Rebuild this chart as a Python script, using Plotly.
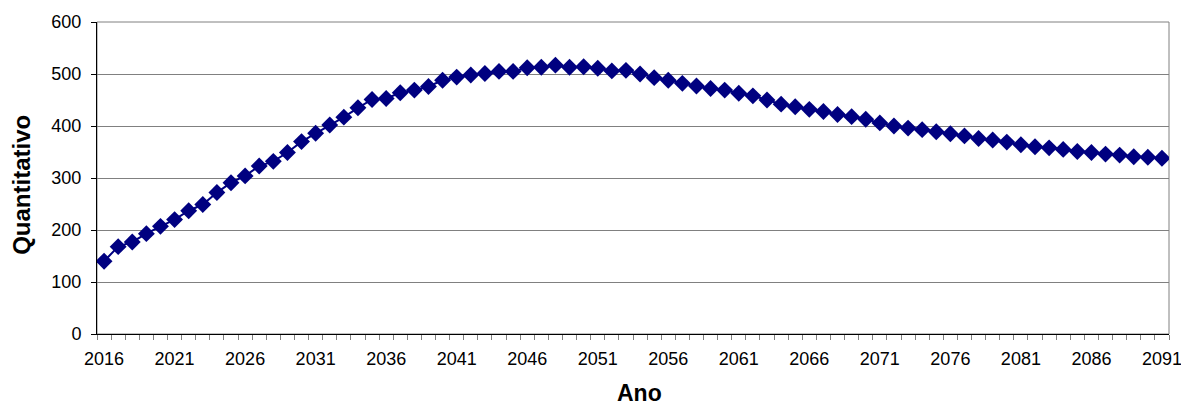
import plotly.graph_objects as go

years = list(range(2016, 2092))
quantitativo = [
    140, 168, 177, 193, 207, 220, 237, 249, 272, 291,
    304, 323, 332, 349, 370, 386, 402, 417, 435, 451,
    453, 464, 469, 476, 488, 494, 498, 501, 505, 505,
    512, 513, 517, 513, 514, 511, 506, 507, 500, 493,
    488, 482, 477, 472, 469, 463, 458, 450, 442, 437,
    432, 428, 422, 418, 413, 406, 400, 396, 393, 389,
    385, 381, 376, 373, 369, 364, 360, 358, 355, 351,
    349, 346, 344, 341, 340, 338,
]
tick_years = list(range(2016, 2092, 5))
y_ticks = [0, 100, 200, 300, 400, 500, 600]
x_title = "Ano"
y_title = "Quantitativo"

fig = go.Figure()
fig.add_trace(go.Scatter(
    x=years, y=quantitativo, mode="lines+markers",
    line=dict(color="#000080", width=2),
    marker=dict(symbol="diamond", size=13, color="#000080"),
    showlegend=False,
))

fig.update_layout(
    width=1181, height=405,
    margin=dict(l=97, r=12, t=22, b=71),
    paper_bgcolor="white", plot_bgcolor="white",
    font=dict(family="Liberation Sans, Arial, sans-serif", size=18, color="black"),
    shapes=[dict(type="rect", xref="paper", yref="paper", x0=0, y0=0, x1=1, y1=1,
                 line=dict(color="#808080", width=1), layer="below")],
    annotations=[
        dict(text="<b>" + x_title + "</b>", xref="paper", yref="paper", x=0.5065, y=-0.19,
             xanchor="center", yanchor="middle", showarrow=False, font=dict(size=23)),
        dict(text="<b>" + y_title + "</b>", xref="paper", yref="paper", x=-0.07, y=0.478,
             xanchor="center", yanchor="middle", textangle=-90, showarrow=False, font=dict(size=24)),
    ],
)
fig.update_xaxes(
    range=[2015.5, 2091.5], tickvals=tick_years, ticktext=[str(v) for v in tick_years],
    ticks="outside", ticklen=5, tickcolor="rgba(0,0,0,0)", ticklabelstandoff=3,
    ticklabeloverflow="allow",
    showline=True, linecolor="black", linewidth=1, showgrid=False, zeroline=False,
    automargin=False,
    minor=dict(ticks="outside", ticklen=5, tick0=2015.5, dtick=1, tickcolor="#808080", showgrid=False),
)
fig.update_yaxes(
    range=[0, 600], tickvals=y_ticks,
    ticks="outside", ticklen=5, tickcolor="black", ticklabelstandoff=6,
    showline=True, linecolor="black", linewidth=1, automargin=False,
    showgrid=True, gridcolor="#808080", gridwidth=1, zeroline=False,
)
fig.write_html(
    "out.html",
    config={"displayModeBar": False},
    post_script="document.body.style.margin='0';document.body.style.overflow='hidden';",
)
